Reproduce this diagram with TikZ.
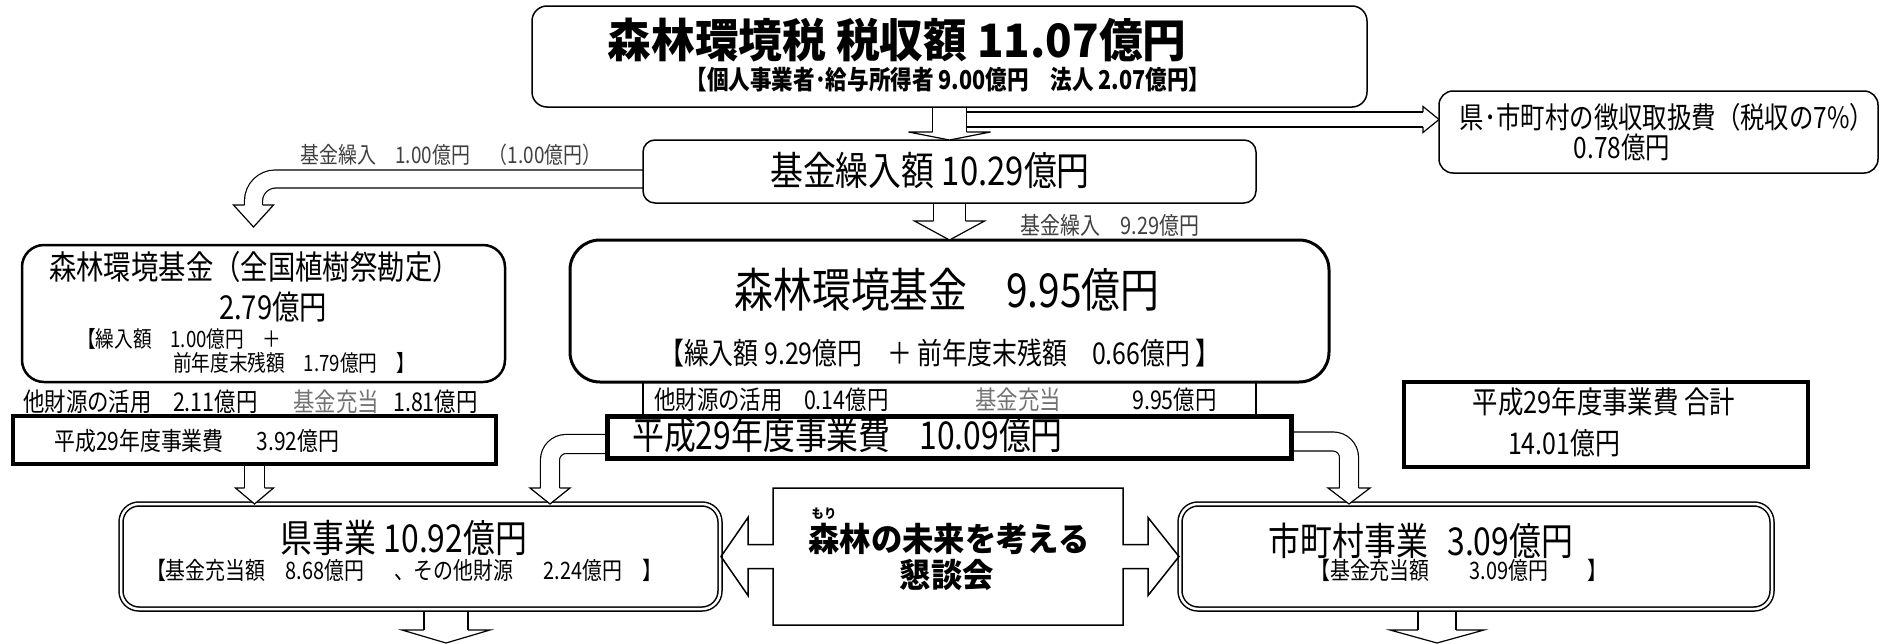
\documentclass[tikz,border=0pt]{standalone}
\usepackage{fontspec}
\setmainfont[FakeStretch=0.83]{Noto Sans CJK JP}
\newfontfamily\bjp[FakeStretch=0.95]{Noto Sans CJK JP}
\usetikzlibrary{calc}
\pgfdeclarelayer{bg}
\pgfsetlayers{bg,main}

\newcommand{\fs}[1]{\fontsize{#1}{#1}\selectfont}
% hollow arrow head: base point, rotation, shaft half width, head half width, length
\newcommand{\bhead}[5]{%
  \begin{scope}[shift={#1}, rotate=#2]
    \fill[white] (-#4,0) -- (0,#5) -- (#4,0) -- cycle;
    \draw[line width=1.2] (-#3,0) -- (-#4,0) -- (0,#5) -- (#4,0) -- (#3,0);
  \end{scope}}

\tikzset{
  rbox/.style={draw, line width=1.5, rounded corners=#1, inner sep=0, outer sep=0},
  thickbox/.style={draw, line width=#1, inner sep=0, outer sep=0},
  dbox/.style={draw, double, double distance=2.5, line width=1.5, rounded corners=18, inner sep=0, outer sep=0},
  txt/.style={inner sep=0},
  lbl/.style={text=black!75},
  gry/.style={text=black!55},
  shaft/.style={double, double distance=#1, line width=1.2},
}

\begin{document}
\begin{tikzpicture}[x=1pt, y=-1pt]
  \useasboundingbox (0,0) rectangle (1895,643);

  % boxes
  \node[rbox=15, minimum width=835, minimum height=101] (tax) at (949.5,56.5) {};
  \node[rbox=14, minimum width=439, minimum height=82] (fee) at (1658.5,132) {};
  \node[rbox=12, minimum width=613, minimum height=63] (kin) at (949.5,171.5) {};
  \node[rbox=22, line width=2.5, minimum width=483, minimum height=137] (fundL) at (263.5,313.5) {};
  \node[rbox=30, line width=3, minimum width=759, minimum height=142] (fundM) at (949.5,311) {};
  \node[thickbox=4.5, minimum width=483, minimum height=48] (costL) at (254.5,440) {};
  \node[thickbox=5, minimum width=684, minimum height=42] (costM) at (949,437) {};
  \node[thickbox=4, minimum width=404, minimum height=85] (total) at (1606,424.5) {};
  \node[dbox, minimum width=599, minimum height=105] (pref) at (420.5,556.5) {};
  \node[dbox, minimum width=592, minimum height=105] (muni) at (1476,556.5) {};
  \node[minimum width=350, minimum height=137, inner sep=0] (forum) at (948,556.5) {};

  % texts
  \node[txt, font=\bjp\bfseries\fs{46}] (taxT) at (897,40) {森林環境税 税収額 11.07億円};
  \node[txt, font=\bfseries\fs{26}] (taxS) at (948,80) {【個人事業者･給与所得者 9.00億円　法人 2.07億円】};
  \node[txt, font=\fs{29.4}] (feeT) at (1667,117) {県･市町村の徴収取扱費（税収の7\%）};
  \node[txt, font=\fs{29.4}] (feeV) at (1622,147) {0.78億円};
  \node[txt, font=\fs{39.6}] (kinT) at (930,170) {基金繰入額 10.29億円};
  \node[txt, lbl, font=\fs{22.8}] (kinL) at (451,155) {基金繰入　1.00億円　（1.00億円）};
  \node[txt, lbl, font=\fs{24}] (kinM) at (1110,225) {基金繰入　9.29億円};

  \node[txt, font=\fs{33}] (fundLT) at (254.5,267) {森林環境基金（全国植樹祭勘定）};
  \node[txt, font=\fs{33}] (fundLV) at (273,307) {2.79億円};
  \node[txt, anchor=west, font=\fs{22.5}] (fundLA) at (77,339) {【繰入額　1.00億円　＋};
  \node[txt, anchor=west, font=\fs{22.5}] (fundLB) at (173,363) {前年度末残額　1.79億円　】};
  \node[txt, font=\fs{46.8}] (fundMT) at (947,290) {森林環境基金　9.95億円};
  \node[txt, font=\fs{30}] (fundMS) at (940,353) {【繰入額 9.29億円　＋ 前年度末残額　0.66億円 】};

  \node[txt, anchor=west, font=\fs{25.8}] (othL) at (23,402) {他財源の活用　2.11億円};
  \node[txt, anchor=west, gry, font=\fs{25.8}] (useL) at (293,402) {基金充当};
  \node[txt, anchor=west, font=\fs{25.8}] (useLV) at (393,402) {1.81億円};
  \node[txt, anchor=west, font=\fs{25.8}] (othM) at (654,400) {他財源の活用　0.14億円};
  \node[txt, anchor=west, gry, font=\fs{25.8}] (useM) at (975,400) {基金充当};
  \node[txt, anchor=west, font=\fs{25.8}] (useMV) at (1132,400) {9.95億円};

  \node[txt, anchor=west, font=\fs{25.2}] (costLT) at (54,441) {平成29年度事業費\hspace{1.3em}3.92億円};
  \node[txt, anchor=west, font=\fs{38.4}] (costMT) at (632,435) {平成29年度事業費\hspace{0.75em}10.09億円};
  \node[txt, font=\fs{30.6}] (totT) at (1604,402) {平成29年度事業費 合計};
  \node[txt, font=\fs{30}] (totV) at (1564,443) {14.01億円};

  \node[txt, font=\fs{38.4}] (prefT) at (404,538) {県事業 10.92億円};
  \node[txt, font=\fs{24}] (prefS) at (404,570) {【基金充当額　8.68億円\hspace{1.25em}、その他財源\hspace{1.25em}2.24億円　】};
  \node[txt, font=\fs{38.4}] (muniT) at (1421,541) {市町村事業\hspace{0.5em}3.09億円};
  \node[txt, font=\fs{24}] (muniS) at (1459,570) {【基金充当額　　3.09億円　　】};

  \node[txt, font=\bjp\bfseries\fs{13}] (ruby) at (824,514) {もり};
  \node[txt, font=\bjp\bfseries\fs{33}] (forumA) at (949,539) {森林の未来を考える};
  \node[txt, font=\bjp\bfseries\fs{33}] (forumB) at (947,575) {懇談会};

  % forum box with arrows to both sides
  \begin{scope}[shift={(forum.center)}]
    \draw[line width=1.5] (-175,-68.5) -- (175,-68.5) -- (175,-12) -- (200,-12) -- (200,-39)
      -- (231,0) -- (200,39) -- (200,12) -- (175,12) -- (175,68.5) -- (-175,68.5)
      -- (-175,12) -- (-200,12) -- (-200,39) -- (-227,0) -- (-200,-39) -- (-200,-12)
      -- (-175,-12) -- cycle;
  \end{scope}

  % frame lines between fund and cost
  \draw[line width=1.5] (fundM.south -| kin.west) -- (costM.north -| kin.west);
  \draw[line width=1.5] (fundM.south -| kin.east) -- (costM.north -| kin.east);

  % block arrows
  \coordinate (a1) at ($(kin.north)+(0,-8)$);
  \coordinate (a2s) at (967,119.5);
  \coordinate (a2) at ($(fee.west)+(-16,-12.5)$);
  \coordinate (a3) at ($(fundM.north)+(0,-19)$);
  \coordinate (a4) at (253.5,205);
  \coordinate (a5) at ($(costL.south |- pref.north)+(0,-16)$);
  \coordinate (a6) at (550,488);
  \coordinate (a7) at (1349,488);
  \coordinate (a8s) at (446,609);
  \coordinate (a8) at (446,630);
  \coordinate (a9s) at (1437,609);
  \coordinate (a9) at (1437,630);

  \begin{pgfonlayer}{bg}
    \draw[shaft=32.8] (tax.south) -- (a1);
    \draw[shaft=13.8] (a2s) -- (a2);
    \draw[shaft=30.8] (kin.south) -- (a3);
    \draw[shaft=16.8, rounded corners=22] ($(kin.west)+(0,7.5)$) -| (a4);
    \draw[shaft=18.8] (costL.south) -- (a5);
    \draw[shaft=17.8, rounded corners=16] ($(costM.west)+(0,7)$) -| (a6);
    \draw[shaft=17.8, rounded corners=16] ($(costM.east)+(0,4.5)$) -| (a7);
    \draw[shaft=42.8] (a8s) -- (a8);
    \draw[shaft=36.8] (a9s) -- (a9);
  \end{pgfonlayer}
  \bhead{(a1)}{0}{17}{41}{8}
  \bhead{(a2)}{90}{7.5}{13}{16}
  \bhead{(a3)}{0}{16}{35}{19}
  \bhead{(a4)}{0}{9}{20}{22}
  \bhead{(a5)}{0}{10}{19}{16}
  \bhead{(a6)}{0}{9.5}{20}{16}
  \bhead{(a7)}{0}{9.5}{21}{16}
  \bhead{(a8)}{0}{22}{44}{13}
  \bhead{(a9)}{0}{19}{47}{13}
\end{tikzpicture}
\end{document}
